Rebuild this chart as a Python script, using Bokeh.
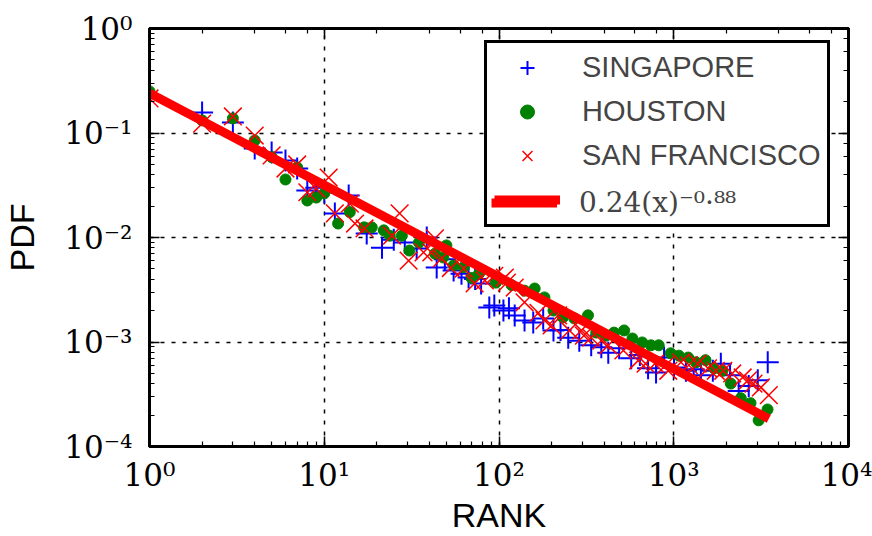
from bokeh.plotting import figure
from bokeh.models import (Range1d, LogAxis, LogTicker, CustomJSTickFormatter, Legend,
                          LegendItem)
from bokeh.embed import file_html
from bokeh.resources import INLINE

# ---------------- data ----------------
series_names = ["SINGAPORE", "HOUSTON", "SAN FRANCISCO"]
fit_label = "0.24(x)\u207b\u2070\u00b7\u2078\u2078"

sg_rank = [1, 2, 3, 4, 5, 6, 7, 8, 9, 10, 11.5, 13.8, 17.5, 21.4, 25, 28.9, 33.8, 38.6,
           44, 49, 55, 61, 67, 73, 79, 88, 94, 106, 114, 123, 140, 157, 179, 205, 225,
           249, 288, 337, 385, 422, 487, 571, 640, 713, 792, 880, 1003, 1174, 1300, 1430,
           1674, 1860, 2100, 2353, 2686, 3026, 3450]
sg_pdf = [0.23, 0.157, 0.126, 0.071, 0.065, 0.0546, 0.0457, 0.0282, 0.030, 0.0270, 0.0170,
          0.0252, 0.0109, 0.0080, 0.0095, 0.00896, 0.00785, 0.0100, 0.00516, 0.0062, 0.00483,
          0.0045, 0.00414, 0.0040, 0.00363, 0.00214, 0.00224, 0.0020, 0.0021, 0.00179,
          0.00161, 0.00154, 0.00168, 0.00129, 0.0013, 0.0011, 0.00103, 0.00093, 0.00089,
          0.00079, 0.00087, 0.00070, 0.00075, 0.00056, 0.00051, 0.00071, 0.00057, 0.00053,
          0.00055, 0.00048, 0.00053, 0.00062, 0.00048, 0.00034, 0.00038, 0.00043, 0.00064]

hou_rank = [1, 2, 3, 4, 5, 6, 7, 8, 9, 10, 12, 14, 16.9, 18.7, 21.9, 23.7, 27.8, 30.7, 34.8,
            43, 48, 50, 55, 62.8, 69.6, 77, 96, 118, 140, 160, 182, 205, 232, 270, 323, 360,
            410, 455, 520, 580, 660, 740, 820, 960, 1070, 1210, 1340, 1520, 1700, 1900, 2120,
            2420, 2750, 3060, 3440]
hou_pdf = [0.25, 0.132, 0.138, 0.0848, 0.0587, 0.0359, 0.0468, 0.0226, 0.0241, 0.0264, 0.0136,
           0.0175, 0.0125, 0.0125, 0.0117, 0.0104, 0.0104, 0.0075, 0.00895, 0.0070, 0.00644,
           0.0084, 0.0054, 0.0052, 0.0041, 0.00453, 0.0037, 0.0035, 0.0031, 0.00325, 0.00267,
           0.0020, 0.00172, 0.00168, 0.0018, 0.00123, 0.00115, 0.00123, 0.00129, 0.00108,
           0.00099, 0.00093, 0.00093, 0.00078, 0.00074, 0.00071, 0.00064, 0.00067, 0.00056,
           0.00053, 0.0004, 0.00029, 0.00026, 0.000178, 0.000226]

sf_rank = [1, 2, 3, 4, 5, 6, 7, 8, 9, 10.6, 11.5, 14, 15, 17, 24.4, 27, 30.4, 37, 41, 43, 47,
           53, 62.8, 72.5, 83, 94, 108, 111, 123, 140, 168, 182, 200, 218, 253, 296, 306, 337,
           385, 422, 515, 626, 690, 780, 900, 930, 1100, 1220, 1370, 1570, 1740, 1920, 2160,
           2480, 2660, 2860, 3150, 3500]
sf_pdf = [0.214, 0.123, 0.144, 0.0946, 0.061, 0.0457, 0.050, 0.0271, 0.0294, 0.0375, 0.017,
          0.0211, 0.0136, 0.0122, 0.0104, 0.017, 0.006, 0.0072, 0.0072, 0.0098, 0.0063, 0.0051,
          0.00505, 0.00363, 0.00388, 0.0043, 0.00414, 0.0037, 0.00332, 0.0024, 0.0019, 0.00161,
          0.00144, 0.0018, 0.00129, 0.00129, 0.00115, 0.0011, 0.00103, 0.00093, 0.00083,
          0.000665, 0.00062, 0.00062, 0.0006, 0.00053, 0.00064, 0.0006, 0.00062, 0.00056,
          0.00053, 0.00053, 0.0005, 0.000458, 0.00043, 0.0004, 0.000367, 0.00031]

fit_rank = [1, 3500]
fit_pdf = [0.24, 0.000184]

x_ticks = [1, 10, 100, 1000, 10000]
x_tick_labels = ["10\u2070", "10\u00b9", "10\u00b2", "10\u00b3", "10\u2074"]
y_ticks = [1e-4, 1e-3, 1e-2, 1e-1, 1]
y_tick_labels = ["10\u207b\u2074", "10\u207b\u00b3", "10\u207b\u00b2", "10\u207b\u00b9", "10\u2070"]

# ---------------- layout / style ----------------
W, H = 872, 536
ML, MR, MT, MB = 147, 24, 28, 90
SERIF = "DejaVu Serif"
SANS = "Liberation Sans"

p = figure(width=W, height=H, x_axis_type="log", y_axis_type="log",
           x_range=Range1d(1, 1e4), y_range=Range1d(1e-4, 1),
           output_backend="svg", toolbar_location=None,
           min_border_left=ML, min_border_right=MR, min_border_top=MT, min_border_bottom=MB)
p.background_fill_color = "white"
p.border_fill_color = "white"
p.outline_line_color = "black"
p.outline_line_width = 3

xax = p.below[0]
yax = p.left[0]

def style_axis(ax):
    ax.axis_line_width = 3
    ax.axis_line_color = "black"
    ax.major_tick_in = 10
    ax.major_tick_out = 0
    ax.minor_tick_in = 5
    ax.minor_tick_out = 0
    ax.major_tick_line_width = 1.5
    ax.minor_tick_line_width = 1.2
    ax.major_tick_line_color = "black"
    ax.minor_tick_line_color = "black"

style_axis(xax)
style_axis(yax)
for side in ("above", "right"):
    ax = LogAxis(ticker=LogTicker())
    style_axis(ax)
    ax.major_label_text_font_size = "0px"
    ax.major_label_standoff = 0
    ax.formatter = CustomJSTickFormatter(code="return ''")
    p.add_layout(ax, side)

FMT_CODE = """
const i = vals.findIndex(v => Math.abs(Math.log10(v) - Math.log10(tick)) < 1e-6);
return i >= 0 ? labs[i] : "";
"""
xax.formatter = CustomJSTickFormatter(args=dict(vals=x_ticks, labs=x_tick_labels), code=FMT_CODE)
yax.formatter = CustomJSTickFormatter(args=dict(vals=y_ticks, labs=y_tick_labels), code=FMT_CODE)
for ax, st in ((xax, 10), (yax, 17)):
    ax.major_label_text_font = SERIF
    ax.major_label_text_font_size = "31px"
    ax.major_label_text_color = "black"
    ax.major_label_standoff = st

xax.axis_label = "RANK"
yax.axis_label = "PDF"
for ax, st in ((xax, 0), (yax, 20)):
    ax.axis_label_text_font = SANS
    ax.axis_label_text_font_size = "34px"
    ax.axis_label_text_font_style = "normal"
    ax.axis_label_text_color = "black"
    ax.axis_label_standoff = st

p.xgrid.grid_line_color = "black"
p.ygrid.grid_line_color = "black"
p.xgrid.grid_line_dash = "4 7"
p.ygrid.grid_line_dash = "4 7"
p.xgrid.grid_line_width = 1.5
p.ygrid.grid_line_width = 1.5

# ---------------- marks ----------------
r_sg = p.scatter(sg_rank, sg_pdf, marker="cross", size=22, line_color="#0000ff", line_width=2)
r_hou = p.scatter(hou_rank, hou_pdf, marker="circle", size=11,
                  fill_color="#008000", line_color="#008000")
r_sf = p.scatter(sf_rank, sf_pdf, marker="x", size=25, line_color="#ff0000", line_width=1.5)
r_fit = p.line(fit_rank, fit_pdf, line_color="#ff0000", line_width=9, line_cap="butt")

# ---------------- legend ----------------
LX, LY = 335, 219
PAD, SP, GW, GH, STAND = 7, 9, 66, 35, 22
common = dict(location=(LX, LY), padding=PAD, spacing=SP, glyph_width=GW, glyph_height=GH,
              label_height=GH, label_standoff=STAND, margin=0)
legend = Legend(items=[LegendItem(label=series_names[0], renderers=[r_sg]),
                       LegendItem(label=series_names[1], renderers=[r_hou]),
                       LegendItem(label=series_names[2], renderers=[r_sf]),
                       LegendItem(label=" ", renderers=[r_fit])],
                label_text_font=SANS, label_text_font_size="29px",
                border_line_color="black", border_line_width=3, border_line_alpha=1,
                background_fill_color="white", background_fill_alpha=1, **common)
p.add_layout(legend)
legend_fit = Legend(items=[LegendItem(label=fit_label, renderers=[r_fit])],
                    label_text_font=SERIF, label_text_font_size="28px",
                    border_line_alpha=0, background_fill_alpha=0, **common)
p.add_layout(legend_fit)

open("out.html", "w").write(file_html(p, INLINE))
